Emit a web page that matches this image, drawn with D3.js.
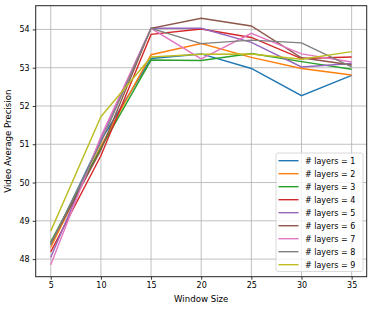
<!DOCTYPE html>
<html><head><meta charset="utf-8">
<script src="https://cdn.jsdelivr.net/npm/d3@7"></script>
<style>body{margin:0;background:#fff}svg{display:block;font-family:"DejaVu Sans",sans-serif}</style>
</head><body><svg id="c" width="374" height="310"></svg>
<script>
const windowSizes = [5, 10, 15, 20, 25, 30, 35];
const seriesNames = ["# layers = 1","# layers = 2","# layers = 3","# layers = 4","# layers = 5","# layers = 6","# layers = 7","# layers = 8","# layers = 9"];
const layers1 = [48.37, 51.10, 53.24, 53.36, 52.98, 52.27, 52.80];
const layers2 = [48.31, 50.95, 53.34, 53.63, 53.27, 52.98, 52.81];
const layers3 = [48.45, 50.90, 53.20, 53.19, 53.37, 53.16, 52.96];
const layers4 = [48.19, 50.70, 53.87, 54.01, 53.79, 53.24, 53.28];
const layers5 = [48.04, 51.15, 54.03, 54.03, 53.66, 53.02, 53.11];
const layers6 = [48.41, 50.85, 54.03, 54.29, 54.09, 53.26, 53.07];
const layers7 = [47.85, 51.20, 54.03, 53.23, 53.90, 53.36, 53.15];
const layers8 = [48.40, 51.05, 54.03, 53.63, 53.72, 53.65, 53.02];
const layers9 = [48.73, 51.72, 53.28, 53.35, 53.36, 53.22, 53.42];
const yTicks = [48, 49, 50, 51, 52, 53, 54];
const colors = ["#1f77b4","#ff7f0e","#2ca02c","#d62728","#9467bd","#8c564b","#e377c2","#7f7f7f","#bcbd22"];
const allSeries = [layers1,layers2,layers3,layers4,layers5,layers6,layers7,layers8,layers9];

const svg = d3.select("#c");
const L = 35.7, R = 366.7, T = 5.7, B = 276.7;
const x = d3.scaleLinear().domain([3.5, 36.5]).range([L, R]);
const y = d3.scaleLinear().domain([47.54, 54.62]).range([B, T]);

// grid
const g = svg.append("g");
g.selectAll(".vx").data(windowSizes).enter().append("line")
  .attr("x1", d=>x(d)).attr("x2", d=>x(d)).attr("y1", T).attr("y2", B)
  .attr("stroke", "#b0b0b0").attr("stroke-width", 0.8);
g.selectAll(".hy").data(yTicks).enter().append("line")
  .attr("y1", d=>y(d)).attr("y2", d=>y(d)).attr("x1", L).attr("x2", R)
  .attr("stroke", "#b0b0b0").attr("stroke-width", 0.8);

// lines
const line = d3.line().x((d,i)=>x(windowSizes[i])).y(d=>y(d));
allSeries.forEach((s,i)=>{
  svg.append("path").datum(s).attr("d", line).attr("fill","none")
    .attr("stroke", colors[i]).attr("stroke-width", 1.4);
});

// axes
const xa = svg.append("g").attr("transform", `translate(0,${B})`)
  .call(d3.axisBottom(x).tickValues(windowSizes).tickSize(3).tickPadding(3));
const ya = svg.append("g").attr("transform", `translate(${L},0)`)
  .call(d3.axisLeft(y).tickValues(yTicks).tickSize(3).tickPadding(3));
[xa, ya].forEach(a=>{
  a.select(".domain").remove();
  a.selectAll("text").attr("font-size", 8).attr("fill", "#000").attr("font-family","DejaVu Sans");
  a.selectAll("line").attr("stroke", "#000").attr("stroke-width", 0.8);
});
svg.append("rect").attr("x", L).attr("y", T).attr("width", R-L).attr("height", B-T)
  .attr("fill","none").attr("stroke","#222").attr("stroke-width",1);

svg.append("text").attr("x", (L+R)/2).attr("y", 302).attr("text-anchor","middle")
  .attr("font-size", 8.6).text("Window Size");
svg.append("text").attr("transform", `translate(11,${(T+B)/2}) rotate(-90)`)
  .attr("text-anchor","middle").attr("font-size", 8.6).text("Video Average Precision");

// legend
const lg = svg.append("g");
lg.append("rect").attr("x", 276).attr("y", 153).attr("width", 87).attr("height", 118.5)
  .attr("rx", 2).attr("fill", "#fff").attr("fill-opacity", 0.8).attr("stroke", "#d0d0d0").attr("stroke-width", 0.8);
seriesNames.forEach((n,i)=>{
  const yy = 160.7 + i*13;
  lg.append("line").attr("x1", 278.5).attr("x2", 298.5).attr("y1", yy).attr("y2", yy)
    .attr("stroke", colors[i]).attr("stroke-width", 1.4);
  lg.append("text").attr("x", 305).attr("y", yy+2.8).attr("font-size", 8).text(n);
});
</script></body></html>
